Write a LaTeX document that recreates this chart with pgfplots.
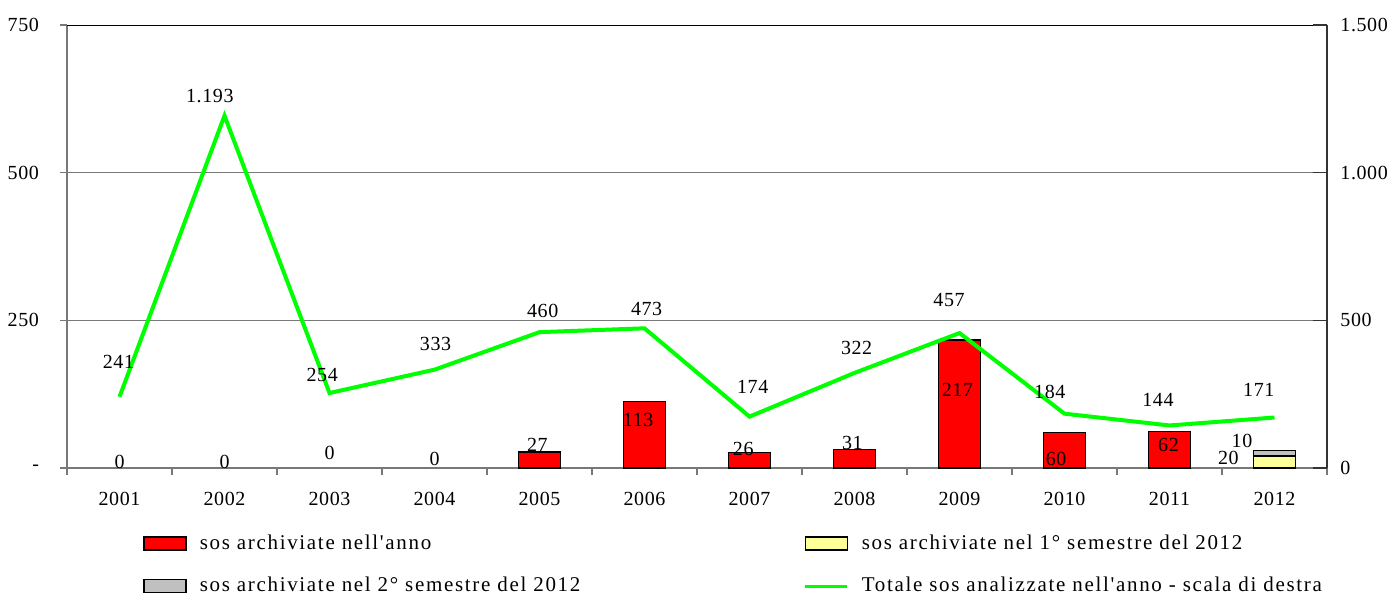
\documentclass[border=0pt]{standalone}
\usepackage{fontspec}
\setmainfont{Liberation Serif}[LetterSpace=3]
\newfontfamily\legfont{Liberation Serif}[LetterSpace=8]
\usepackage{pgfplots}
\pgfplotsset{compat=1.18}
\definecolor{barred}{RGB}{255,0,0}
\definecolor{baryel}{RGB}{255,255,153}
\definecolor{bargray}{RGB}{192,192,192}
\definecolor{linegreen}{RGB}{0,255,0}
\definecolor{axgray}{RGB}{120,120,120}

\begin{document}
\begin{tikzpicture}[font=\fontsize{10}{12}\selectfont]
\useasboundingbox (-33.5pt,-64pt) rectangle ++(695.5pt,298pt);
\pgfplotsset{
  every axis/.append style={
    scale only axis, width=630pt, height=221.5pt,
    xmin=-0.5, xmax=11.5,
    /pgf/number format/assume math mode=true,
  },
  boxleg/.style={legend image code/.code={\draw[##1] (0pt,-3.25pt) rectangle (21pt,3.25pt);}},
  lineleg/.style={legend image code/.code={\draw[##1] (0pt,0pt) -- (21pt,0pt);}},
}
% barre: sos archiviate (scala di sinistra)
\begin{axis}[
  ybar stacked, bar width=21pt,
  ymin=0, ymax=750,
  axis x line*=bottom, axis y line*=left,
  axis line style={draw=axgray, line width=0.6pt},
  xtick={0,...,11},
  xticklabels={2001,2002,2003,2004,2005,2006,2007,2008,2009,2010,2011,2012},
  minor xtick={-0.5,0.5,...,11.5},
  major x tick style={draw=none},
  minor x tick style={draw=axgray, line width=0.6pt},
  ytick={0,250,500,750},
  yticklabels={-,250,500,750},
  y tick style={draw=axgray, line width=0.6pt},
  tick align=outside, major tick length=3.5pt, minor tick length=3.5pt,
  ymajorgrids, grid style={draw=axgray, line width=0.5pt},
  xticklabel style={yshift=-5pt},
  yticklabel style={xshift=-7pt},
  legend columns=2,
  legend cell align=left,
  legend style={at={(0.0603,-0.15)}, anchor=north west, draw=none, fill=none,
    inner sep=0pt, row sep=12.5pt, font=\fontsize{10.5}{12}\legfont,
    nodes={inner sep=0pt},
    /tikz/every odd column/.append style={column sep=6.5pt}},
]
\addplot[fill=barred, draw=black, line width=0.7pt, boxleg]
  coordinates {(4,27) (5,113) (6,26) (7,31) (8,217) (9,60) (10,62) (11,0)};
\addplot[fill=baryel, draw=black, line width=0.7pt, boxleg]
  coordinates {(4,0) (5,0) (6,0) (7,0) (8,0) (9,0) (10,0) (11,20)};
\addplot[fill=bargray, draw=black, line width=0.7pt, boxleg]
  coordinates {(4,0) (5,0) (6,0) (7,0) (8,0) (9,0) (10,0) (11,10)};
\addlegendimage{linegreen, line width=1.5pt, lineleg}
\legend{\makebox[302pt][l]{sos archiviate nell'anno}, sos archiviate nel 1° semestre del 2012,
  \makebox[302pt][l]{sos archiviate nel 2° semestre del 2012}, Totale sos analizzate nell'anno - scala di destra}
\draw[black, line width=0.8pt] (rel axis cs:0,1) -- (rel axis cs:1,1);
\end{axis}
% linea: totale sos analizzate (scala di destra)
\begin{axis}[
  ymin=0, ymax=1500,
  axis x line=none, axis y line*=right,
  axis line style={draw=black!80, line width=0.6pt},
  ytick={0,500,1000,1500},
  yticklabels={0,500,{1.000},{1.500}},
  y tick style={draw=black!80, line width=0.6pt},
  major tick length=7pt,
  yticklabel style={inner sep=1pt, xshift=5.5pt},
]
\addplot[linegreen, line width=2pt, mark=none]
  coordinates {(0,241) (1,1193) (2,254) (3,333) (4,460) (5,473) (6,174) (7,322) (8,457) (9,184) (10,144) (11,171)};
\node at (axis cs:-0.01,359) {241};
\node at (axis cs:0.86,1260) {1.193};
\node at (axis cs:1.93,315) {254};
\node at (axis cs:3.01,420) {333};
\node at (axis cs:4.03,532) {460};
\node at (axis cs:5.02,538) {473};
\node at (axis cs:6.03,274) {174};
\node at (axis cs:7.02,406) {322};
\node at (axis cs:7.9,569) {457};
\node at (axis cs:8.86,257) {184};
\node at (axis cs:9.89,230) {144};
\node at (axis cs:10.85,264) {171};
% etichette delle barre (valori della scala di sinistra x 2)
\node at (axis cs:0,22) {0};
\node at (axis cs:1,22) {0};
\node at (axis cs:2,50) {0};
\node at (axis cs:3,30) {0};
\node at (axis cs:3.98,78) {27};
\node at (axis cs:4.94,162) {113};
\node at (axis cs:5.94,64) {26};
\node at (axis cs:6.98,84) {31};
\node at (axis cs:7.98,264) {217};
\node at (axis cs:8.92,30) {60};
\node at (axis cs:9.99,78) {62};
\node at (axis cs:10.56,34) {20};
\node at (axis cs:10.69,92) {10};
\end{axis}
\end{tikzpicture}
\end{document}
